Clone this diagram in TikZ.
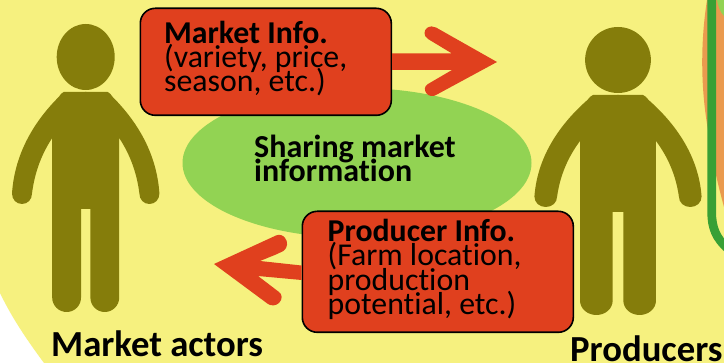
\documentclass[tikz,border=0pt]{standalone}
\usepackage{fontspec}
\setmainfont{Carlito}[Ligatures=NoCommon]
\definecolor{bgy}{HTML}{F6F17F}
\definecolor{fig}{HTML}{857D0B}
\definecolor{redb}{HTML}{E0401E}
\definecolor{oval}{HTML}{92D353}
\definecolor{orng}{HTML}{EA9A4E}
\definecolor{grn}{HTML}{38A035}
\normallineskiplimit=-100pt
\lineskiplimit=-100pt
\AtBeginDocument{\normallineskiplimit=-100pt \lineskiplimit=-100pt }
\tikzset{
 infobox/.style={draw=black,line width=1.6pt,fill=redb,rounded corners=15pt},
 txt/.style={align=left,anchor=north west,inner sep=0pt,font=\fontsize{31.8}{24.3}\selectfont},
 lbl/.style={inner sep=0pt,font=\fontsize{36.7}{36}\selectfont\bfseries,anchor=base west},
 figfill/.style={fill=fig}
}
\newcommand{\figside}{%
 (0.6,0) -- (-22,0) .. controls (-24,0) and (-25,3) .. (-27,5)
 .. controls (-50,28) and (-71,60) .. (-73.7,101.5)
 .. controls (-73.7,107.5) and (-69.4,112) .. (-63.7,112)
 .. controls (-58,112) and (-53.7,107.5) .. (-53.7,101.5)
 .. controls (-51,80) and (-44,62) .. (-33.5,46)
 -- (-33.5,205.6) .. controls (-33.5,213.5) and (-27,220) .. (-19.1,220)
 .. controls (-11,220) and (-4.7,213.5) .. (-4.7,205.6) -- (-4.7,117) -- (0.6,117) -- cycle}
\newcommand{\figshape}{%
 \fill[figfill] (0,-35) ellipse [x radius=29,y radius=33];
 \fill[figfill] \figside;
 \begin{scope}[xscale=-1]\fill[figfill] \figside;\end{scope}}
\begin{document}
\begin{tikzpicture}[x=1pt,y=-1pt]
\useasboundingbox (0,0) rectangle (724,363);
\fill[white] (0,0) rectangle (724,363);
\fill[bgy] (0,0) -- (724,0) -- (724,363) -- (44,363) .. controls (27,340) and (12,318) .. (0,293) -- cycle;
% right side shapes
\fill[orng] (707,0) .. controls (700,45) and (701,90) .. (708,130) .. controls (712,160) and (718,185) .. (724,207) -- (724,0) -- cycle;
\fill[oval] (717,0) -- (724,0) -- (724,16) .. controls (720,12) and (718,6) .. (717,0) -- cycle;
\draw[grn,line width=8.7pt] (711.7,-5) -- (711.7,212) .. controls (711.7,228) and (716,238) .. (728,249);
% oval
\fill[oval] (357,163) ellipse [x radius=174.5,y radius=75];
\node[txt,font=\fontsize{32}{23.7}\selectfont\bfseries] (share) at (254,135) {Sharing market\\information};
% boxes
\node[infobox,minimum width=251pt,minimum height=107pt,inner sep=0pt,anchor=north west] (mbox) at (139.5,7.5) {};
\node[infobox,minimum width=271pt,minimum height=121pt,inner sep=0pt,anchor=north west] (pbox) at (301.5,210.5) {};
\node[txt] (mi) at (164,20.5) {\textbf{Market Info.}\\(variety, price,\\season, etc.)};
\node[txt] (pi) at (327.5,219) {\textbf{Producer Info.}\\(Farm location,\\production\\potential, etc.)};
% arrows
\fill[redb] (mbox.east |- 0,53.5) -- (452,53.5) -- (428,39)
  .. controls (423,36) and (424,30) .. (427,28) .. controls (430,26) and (433,26) .. (436,27.5)
  -- (497,62) -- (436,95) .. controls (433,97) and (429,96) .. (427,94) .. controls (424,91) and (424,86) .. (428,84)
  -- (452,70) -- (mbox.east |- 0,70) -- cycle;
\fill[redb] (pbox.west |- 0,265.5) -- (260,261) -- (276,254.5)
  -- (283.5,251) .. controls (288,248) and (288,241) .. (285,238) .. controls (283,235) and (279,234) .. (276,235.5)
  -- (214,264) -- (268,304) .. controls (271,306) and (276,306) .. (279,303) .. controls (283,299) and (282,294) .. (279,292)
  -- (258,276) -- (pbox.west |- 0,280) -- cycle;
% people
\begin{scope}[shift={(85.7,92)}]\figshape\end{scope}
\begin{scope}[shift={(618,95)},xscale=1.134]\figshape\end{scope}
% labels
\node[lbl] (ma) at (51,357) {Market actors};
\node[lbl] (pr) at (570,362) {Producers};
\end{tikzpicture}
\end{document}
